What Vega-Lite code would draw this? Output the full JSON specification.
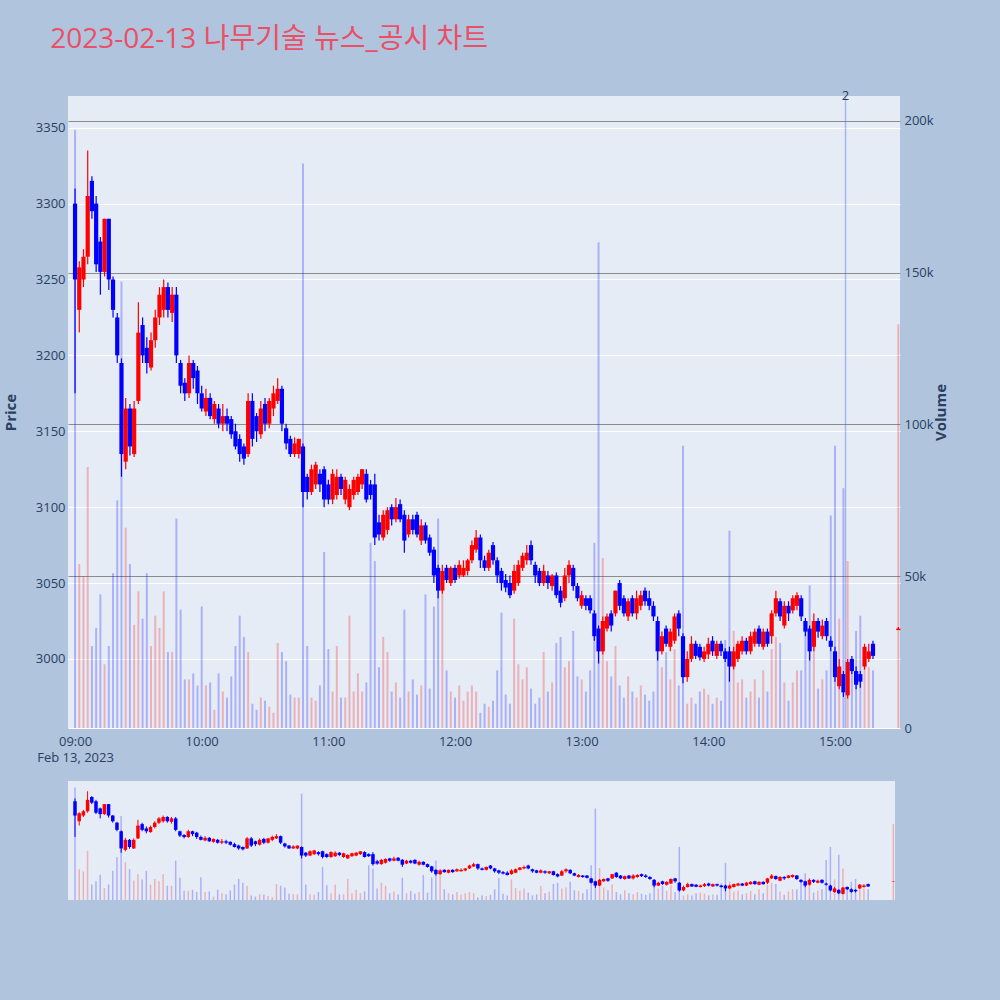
{
  "$schema": "https://vega.github.io/schema/vega-lite/v6.json",
  "background": "#B0C4DE",
  "padding": {"left": 3, "top": 26, "right": 51, "bottom": 100},
  "title": {
    "text": "2023-02-13 나무기술 뉴스_공시 차트",
    "anchor": "start",
    "font": "Open Sans, Noto Sans CJK KR",
    "fontSize": 28,
    "fontWeight": "normal",
    "color": "#ea4f66",
    "dx": 47,
    "offset": 36
  },
  "config": {
    "view": {"fill": "#E5ECF6", "stroke": null},
    "axis": {
      "ticks": false,
      "domain": false,
      "labelColor": "#2a3f5f",
      "labelFont": "Open Sans",
      "labelFontSize": 13,
      "titleColor": "#2a3f5f",
      "titleFont": "Open Sans",
      "titleFontSize": 15,
      "titleFontWeight": "bold"
    }
  },
  "data": {
    "format": {"parse": {"t": "utc:'%H:%M'"}},
    "values": [
      {"t":"09:00","o":3300,"h":3310,"l":3175,"c":3250,"v":197000},
      {"t":"09:02","o":3230,"h":3262,"l":3215,"c":3258,"v":54000},
      {"t":"09:04","o":3250,"h":3270,"l":3245,"c":3265,"v":50000},
      {"t":"09:06","o":3265,"h":3335,"l":3260,"c":3305,"v":86000},
      {"t":"09:08","o":3315,"h":3318,"l":3290,"c":3295,"v":27000},
      {"t":"09:10","o":3300,"h":3305,"l":3255,"c":3260,"v":33000},
      {"t":"09:12","o":3275,"h":3278,"l":3240,"c":3255,"v":44000},
      {"t":"09:14","o":3255,"h":3290,"l":3252,"c":3290,"v":21000},
      {"t":"09:16","o":3290,"h":3290,"l":3243,"c":3250,"v":27000},
      {"t":"09:18","o":3250,"h":3252,"l":3225,"c":3230,"v":51000},
      {"t":"09:20","o":3225,"h":3228,"l":3195,"c":3200,"v":75000},
      {"t":"09:22","o":3195,"h":3198,"l":3120,"c":3135,"v":147000},
      {"t":"09:24","o":3130,"h":3172,"l":3125,"c":3165,"v":66000},
      {"t":"09:26","o":3165,"h":3168,"l":3134,"c":3140,"v":54000},
      {"t":"09:28","o":3135,"h":3170,"l":3133,"c":3165,"v":34000},
      {"t":"09:30","o":3170,"h":3235,"l":3168,"c":3215,"v":45000},
      {"t":"09:32","o":3220,"h":3225,"l":3195,"c":3200,"v":36000},
      {"t":"09:34","o":3205,"h":3212,"l":3188,"c":3195,"v":51000},
      {"t":"09:36","o":3192,"h":3215,"l":3190,"c":3210,"v":27000},
      {"t":"09:38","o":3210,"h":3230,"l":3205,"c":3225,"v":37000},
      {"t":"09:40","o":3225,"h":3245,"l":3220,"c":3240,"v":33000},
      {"t":"09:42","o":3230,"h":3250,"l":3225,"c":3245,"v":45000},
      {"t":"09:44","o":3245,"h":3248,"l":3225,"c":3230,"v":25000},
      {"t":"09:46","o":3228,"h":3245,"l":3222,"c":3240,"v":25000},
      {"t":"09:48","o":3240,"h":3245,"l":3195,"c":3200,"v":69000},
      {"t":"09:50","o":3195,"h":3197,"l":3175,"c":3180,"v":39000},
      {"t":"09:52","o":3182,"h":3185,"l":3170,"c":3175,"v":16000},
      {"t":"09:54","o":3175,"h":3200,"l":3172,"c":3195,"v":16000},
      {"t":"09:56","o":3195,"h":3197,"l":3178,"c":3185,"v":18000},
      {"t":"09:58","o":3190,"h":3193,"l":3168,"c":3175,"v":14000},
      {"t":"10:00","o":3175,"h":3180,"l":3163,"c":3165,"v":40000},
      {"t":"10:02","o":3163,"h":3178,"l":3160,"c":3172,"v":14000},
      {"t":"10:04","o":3172,"h":3175,"l":3158,"c":3160,"v":15000},
      {"t":"10:06","o":3158,"h":3170,"l":3155,"c":3168,"v":6000},
      {"t":"10:08","o":3165,"h":3168,"l":3152,"c":3155,"v":18000},
      {"t":"10:10","o":3155,"h":3168,"l":3150,"c":3160,"v":12000},
      {"t":"10:12","o":3160,"h":3165,"l":3150,"c":3155,"v":10000},
      {"t":"10:14","o":3158,"h":3160,"l":3145,"c":3148,"v":17000},
      {"t":"10:16","o":3150,"h":3155,"l":3138,"c":3140,"v":27000},
      {"t":"10:18","o":3145,"h":3148,"l":3130,"c":3135,"v":37000},
      {"t":"10:20","o":3140,"h":3142,"l":3128,"c":3132,"v":30000},
      {"t":"10:22","o":3135,"h":3175,"l":3133,"c":3170,"v":25000},
      {"t":"10:24","o":3170,"h":3175,"l":3140,"c":3145,"v":8000},
      {"t":"10:26","o":3160,"h":3162,"l":3143,"c":3150,"v":6000},
      {"t":"10:28","o":3148,"h":3170,"l":3145,"c":3165,"v":10000},
      {"t":"10:30","o":3168,"h":3172,"l":3150,"c":3155,"v":9000},
      {"t":"10:32","o":3155,"h":3172,"l":3152,"c":3170,"v":7000},
      {"t":"10:34","o":3165,"h":3180,"l":3160,"c":3175,"v":5000},
      {"t":"10:36","o":3170,"h":3185,"l":3168,"c":3178,"v":28000},
      {"t":"10:38","o":3178,"h":3180,"l":3150,"c":3155,"v":25000},
      {"t":"10:40","o":3152,"h":3155,"l":3138,"c":3142,"v":22000},
      {"t":"10:42","o":3145,"h":3147,"l":3133,"c":3135,"v":11000},
      {"t":"10:44","o":3135,"h":3146,"l":3133,"c":3142,"v":10000},
      {"t":"10:46","o":3135,"h":3145,"l":3132,"c":3145,"v":10000},
      {"t":"10:48","o":3140,"h":3142,"l":3100,"c":3110,"v":186000},
      {"t":"10:50","o":3120,"h":3122,"l":3105,"c":3110,"v":27000},
      {"t":"10:52","o":3110,"h":3128,"l":3108,"c":3125,"v":10000},
      {"t":"10:54","o":3115,"h":3130,"l":3112,"c":3128,"v":9000},
      {"t":"10:56","o":3122,"h":3125,"l":3110,"c":3115,"v":14000},
      {"t":"10:58","o":3125,"h":3127,"l":3100,"c":3105,"v":58000},
      {"t":"11:00","o":3115,"h":3118,"l":3102,"c":3105,"v":26000},
      {"t":"11:02","o":3105,"h":3125,"l":3102,"c":3122,"v":12000},
      {"t":"11:04","o":3108,"h":3125,"l":3105,"c":3120,"v":27000},
      {"t":"11:06","o":3120,"h":3122,"l":3108,"c":3112,"v":10000},
      {"t":"11:08","o":3105,"h":3120,"l":3102,"c":3118,"v":10000},
      {"t":"11:10","o":3100,"h":3115,"l":3098,"c":3112,"v":37000},
      {"t":"11:12","o":3108,"h":3120,"l":3105,"c":3118,"v":12000},
      {"t":"11:14","o":3110,"h":3122,"l":3108,"c":3120,"v":18000},
      {"t":"11:16","o":3115,"h":3125,"l":3112,"c":3125,"v":12000},
      {"t":"11:18","o":3122,"h":3125,"l":3103,"c":3105,"v":15000},
      {"t":"11:20","o":3115,"h":3118,"l":3105,"c":3108,"v":61000},
      {"t":"11:22","o":3115,"h":3122,"l":3075,"c":3080,"v":55000},
      {"t":"11:24","o":3090,"h":3095,"l":3078,"c":3082,"v":20000},
      {"t":"11:26","o":3080,"h":3098,"l":3078,"c":3095,"v":30000},
      {"t":"11:28","o":3085,"h":3100,"l":3082,"c":3098,"v":25000},
      {"t":"11:30","o":3100,"h":3102,"l":3088,"c":3092,"v":12000},
      {"t":"11:32","o":3092,"h":3106,"l":3090,"c":3100,"v":15000},
      {"t":"11:34","o":3102,"h":3105,"l":3090,"c":3092,"v":10000},
      {"t":"11:36","o":3095,"h":3098,"l":3070,"c":3078,"v":39000},
      {"t":"11:38","o":3082,"h":3095,"l":3080,"c":3092,"v":12000},
      {"t":"11:40","o":3092,"h":3095,"l":3082,"c":3085,"v":16000},
      {"t":"11:42","o":3095,"h":3097,"l":3080,"c":3082,"v":11000},
      {"t":"11:44","o":3078,"h":3092,"l":3075,"c":3088,"v":14000},
      {"t":"11:46","o":3088,"h":3090,"l":3076,"c":3078,"v":44000},
      {"t":"11:48","o":3080,"h":3082,"l":3068,"c":3070,"v":13000},
      {"t":"11:50","o":3072,"h":3074,"l":3050,"c":3055,"v":40000},
      {"t":"11:52","o":3060,"h":3062,"l":3040,"c":3045,"v":69000},
      {"t":"11:54","o":3045,"h":3062,"l":3043,"c":3058,"v":50000},
      {"t":"11:56","o":3060,"h":3062,"l":3050,"c":3052,"v":19000},
      {"t":"11:58","o":3050,"h":3061,"l":3048,"c":3060,"v":12000},
      {"t":"12:00","o":3060,"h":3062,"l":3050,"c":3052,"v":10000},
      {"t":"12:02","o":3055,"h":3065,"l":3053,"c":3062,"v":14000},
      {"t":"12:04","o":3055,"h":3065,"l":3054,"c":3060,"v":9000},
      {"t":"12:06","o":3058,"h":3066,"l":3055,"c":3065,"v":12000},
      {"t":"12:08","o":3065,"h":3078,"l":3063,"c":3075,"v":14000},
      {"t":"12:10","o":3072,"h":3085,"l":3070,"c":3080,"v":12000},
      {"t":"12:12","o":3080,"h":3082,"l":3060,"c":3065,"v":5000},
      {"t":"12:14","o":3065,"h":3068,"l":3058,"c":3060,"v":8000},
      {"t":"12:16","o":3060,"h":3072,"l":3058,"c":3070,"v":7000},
      {"t":"12:18","o":3075,"h":3077,"l":3062,"c":3065,"v":9000},
      {"t":"12:20","o":3065,"h":3067,"l":3050,"c":3055,"v":19000},
      {"t":"12:22","o":3058,"h":3060,"l":3045,"c":3050,"v":38000},
      {"t":"12:24","o":3052,"h":3056,"l":3044,"c":3047,"v":11000},
      {"t":"12:26","o":3050,"h":3055,"l":3040,"c":3042,"v":8000},
      {"t":"12:28","o":3045,"h":3062,"l":3043,"c":3058,"v":36000},
      {"t":"12:30","o":3050,"h":3065,"l":3048,"c":3062,"v":21000},
      {"t":"12:32","o":3060,"h":3070,"l":3058,"c":3068,"v":16000},
      {"t":"12:34","o":3065,"h":3075,"l":3062,"c":3070,"v":20000},
      {"t":"12:36","o":3075,"h":3078,"l":3062,"c":3065,"v":13000},
      {"t":"12:38","o":3062,"h":3064,"l":3050,"c":3055,"v":8000},
      {"t":"12:40","o":3058,"h":3060,"l":3048,"c":3050,"v":10000},
      {"t":"12:42","o":3050,"h":3062,"l":3048,"c":3058,"v":25000},
      {"t":"12:44","o":3055,"h":3058,"l":3046,"c":3050,"v":12000},
      {"t":"12:46","o":3048,"h":3056,"l":3045,"c":3055,"v":15000},
      {"t":"12:48","o":3055,"h":3057,"l":3040,"c":3042,"v":28000},
      {"t":"12:50","o":3045,"h":3048,"l":3034,"c":3037,"v":30000},
      {"t":"12:52","o":3040,"h":3060,"l":3038,"c":3055,"v":20000},
      {"t":"12:54","o":3055,"h":3065,"l":3050,"c":3062,"v":22000},
      {"t":"12:56","o":3060,"h":3062,"l":3045,"c":3048,"v":32000},
      {"t":"12:58","o":3048,"h":3050,"l":3038,"c":3040,"v":17000},
      {"t":"13:00","o":3035,"h":3045,"l":3033,"c":3042,"v":16000},
      {"t":"13:02","o":3040,"h":3042,"l":3032,"c":3035,"v":12000},
      {"t":"13:04","o":3040,"h":3042,"l":3030,"c":3032,"v":19000},
      {"t":"13:06","o":3030,"h":3032,"l":3012,"c":3015,"v":61000},
      {"t":"13:08","o":3020,"h":3022,"l":2997,"c":3005,"v":160000},
      {"t":"13:10","o":3005,"h":3028,"l":3003,"c":3025,"v":56000},
      {"t":"13:12","o":3020,"h":3030,"l":3018,"c":3028,"v":22000},
      {"t":"13:14","o":3030,"h":3032,"l":3018,"c":3022,"v":17000},
      {"t":"13:16","o":3030,"h":3045,"l":3028,"c":3045,"v":27000},
      {"t":"13:18","o":3050,"h":3052,"l":3032,"c":3035,"v":14000},
      {"t":"13:20","o":3040,"h":3042,"l":3028,"c":3030,"v":10000},
      {"t":"13:22","o":3028,"h":3040,"l":3025,"c":3038,"v":17000},
      {"t":"13:24","o":3040,"h":3042,"l":3028,"c":3030,"v":12000},
      {"t":"13:26","o":3030,"h":3045,"l":3026,"c":3040,"v":10000},
      {"t":"13:28","o":3035,"h":3045,"l":3032,"c":3042,"v":14000},
      {"t":"13:30","o":3045,"h":3047,"l":3035,"c":3038,"v":11000},
      {"t":"13:32","o":3040,"h":3045,"l":3032,"c":3035,"v":9000},
      {"t":"13:34","o":3035,"h":3038,"l":3025,"c":3028,"v":12000},
      {"t":"13:36","o":3025,"h":3028,"l":2999,"c":3005,"v":25000},
      {"t":"13:38","o":3005,"h":3018,"l":3003,"c":3015,"v":20000},
      {"t":"13:40","o":3020,"h":3022,"l":3008,"c":3010,"v":25000},
      {"t":"13:42","o":3008,"h":3020,"l":3005,"c":3018,"v":16000},
      {"t":"13:44","o":3012,"h":3030,"l":3010,"c":3028,"v":26000},
      {"t":"13:46","o":3030,"h":3032,"l":3015,"c":3020,"v":14000},
      {"t":"13:48","o":3015,"h":3017,"l":2984,"c":2988,"v":93000},
      {"t":"13:50","o":2988,"h":3005,"l":2985,"c":3000,"v":8000},
      {"t":"13:52","o":3000,"h":3015,"l":2998,"c":3010,"v":10000},
      {"t":"13:54","o":3010,"h":3012,"l":3000,"c":3002,"v":8000},
      {"t":"13:56","o":3008,"h":3010,"l":2999,"c":3001,"v":12000},
      {"t":"13:58","o":3000,"h":3008,"l":2998,"c":3005,"v":13000},
      {"t":"14:00","o":3003,"h":3014,"l":3000,"c":3010,"v":11000},
      {"t":"14:02","o":3012,"h":3015,"l":3002,"c":3005,"v":8000},
      {"t":"14:04","o":3002,"h":3012,"l":3000,"c":3010,"v":10000},
      {"t":"14:06","o":3010,"h":3012,"l":3002,"c":3005,"v":9000},
      {"t":"14:08","o":3005,"h":3007,"l":2998,"c":3000,"v":29000},
      {"t":"14:10","o":3005,"h":3008,"l":2985,"c":2995,"v":65000},
      {"t":"14:12","o":2995,"h":3008,"l":2993,"c":3005,"v":32000},
      {"t":"14:14","o":3000,"h":3012,"l":2998,"c":3010,"v":15000},
      {"t":"14:16","o":3005,"h":3015,"l":3003,"c":3012,"v":16000},
      {"t":"14:18","o":3012,"h":3014,"l":3003,"c":3005,"v":10000},
      {"t":"14:20","o":3005,"h":3018,"l":3003,"c":3015,"v":12000},
      {"t":"14:22","o":3010,"h":3020,"l":3008,"c":3018,"v":16000},
      {"t":"14:24","o":3020,"h":3022,"l":3008,"c":3010,"v":10000},
      {"t":"14:26","o":3008,"h":3020,"l":3006,"c":3018,"v":19000},
      {"t":"14:28","o":3018,"h":3020,"l":3008,"c":3010,"v":12000},
      {"t":"14:30","o":3015,"h":3032,"l":3010,"c":3030,"v":26000},
      {"t":"14:32","o":3030,"h":3045,"l":3028,"c":3040,"v":30000},
      {"t":"14:34","o":3038,"h":3040,"l":3025,"c":3028,"v":28000},
      {"t":"14:36","o":3022,"h":3038,"l":3020,"c":3035,"v":15000},
      {"t":"14:38","o":3035,"h":3038,"l":3025,"c":3030,"v":9000},
      {"t":"14:40","o":3032,"h":3042,"l":3030,"c":3040,"v":15000},
      {"t":"14:42","o":3035,"h":3044,"l":3032,"c":3042,"v":19000},
      {"t":"14:44","o":3040,"h":3042,"l":3025,"c":3028,"v":19000},
      {"t":"14:46","o":3025,"h":3027,"l":3015,"c":3018,"v":33000},
      {"t":"14:48","o":3020,"h":3022,"l":2999,"c":3005,"v":47000},
      {"t":"14:50","o":3008,"h":3030,"l":3005,"c":3025,"v":27000},
      {"t":"14:52","o":3025,"h":3027,"l":3014,"c":3018,"v":13000},
      {"t":"14:54","o":3015,"h":3026,"l":3013,"c":3022,"v":16000},
      {"t":"14:56","o":3025,"h":3027,"l":3012,"c":3015,"v":19000},
      {"t":"14:58","o":3012,"h":3015,"l":3005,"c":3008,"v":70000},
      {"t":"15:00","o":3005,"h":3008,"l":2985,"c":2988,"v":93000},
      {"t":"15:02","o":2982,"h":3000,"l":2980,"c":2995,"v":36000},
      {"t":"15:04","o":2990,"h":2992,"l":2975,"c":2978,"v":79000},
      {"t":"15:06","o":2976,"h":3000,"l":2974,"c":2998,"v":55000},
      {"t":"15:08","o":3000,"h":3002,"l":2990,"c":2992,"v":22000},
      {"t":"15:10","o":2992,"h":2995,"l":2980,"c":2983,"v":32000},
      {"t":"15:12","o":2990,"h":2992,"l":2981,"c":2985,"v":37000},
      {"t":"15:14","o":2995,"h":3010,"l":2993,"c":3008,"v":24000},
      {"t":"15:16","o":3000,"h":3010,"l":2998,"c":3005,"v":20000},
      {"t":"15:18","o":3010,"h":3012,"l":3000,"c":3002,"v":19000},
      {"t":"15:30","o":3019,"h":3021,"l":3019,"c":3020,"v":133000}
    ]
  },
  "spacing": 17,
  "vconcat": [
    {
      "width": 832,
      "height": 632,
      "encoding": {
        "x": {
          "field": "t",
          "type": "temporal",
          "scale": {
            "type": "utc",
            "nice": false,
            "padding": 0,
            "domain": [
              {"year": 1900, "month": 1, "date": 1, "hours": 8, "minutes": 56, "seconds": 40, "utc": true},
              {"year": 1900, "month": 1, "date": 1, "hours": 15, "minutes": 30, "seconds": 48, "utc": true}
            ]
          },
          "axis": {
            "title": null,
            "grid": false,
            "labelPadding": 7,
            "labelLineHeight": 16,
            "values": [
              {"year": 1900, "month": 1, "date": 1, "hours": 9, "utc": true},
              {"year": 1900, "month": 1, "date": 1, "hours": 10, "utc": true},
              {"year": 1900, "month": 1, "date": 1, "hours": 11, "utc": true},
              {"year": 1900, "month": 1, "date": 1, "hours": 12, "utc": true},
              {"year": 1900, "month": 1, "date": 1, "hours": 13, "utc": true},
              {"year": 1900, "month": 1, "date": 1, "hours": 14, "utc": true},
              {"year": 1900, "month": 1, "date": 1, "hours": 15, "utc": true}
            ],
            "labelExpr": "datum.index == 0 ? [utcFormat(datum.value, '%H:%M'), 'Feb 13, 2023'] : utcFormat(datum.value, '%H:%M')"
          }
        }
      },
      "layer": [
        {
          "mark": {"type": "bar", "width": 2, "opacity": 0.25},
          "encoding": {
            "y": {
              "field": "v",
              "type": "quantitative",
              "scale": {"domain": [0, 208200], "nice": false},
              "axis": {
                "orient": "right",
                "title": "Volume",
                "titleAngle": 270,
                "titlePadding": 15,
                "labelPadding": 4,
                "values": [0, 50000, 100000, 150000, 200000],
                "labelExpr": "datum.value == 0 ? '0' : format(datum.value, '~s')",
                "grid": true,
                "gridColor": {"condition": {"test": "datum.value === 0", "value": "#ffffff"}, "value": "#8c8c8c"}
              }
            },
            "color": {"condition": {"test": "datum.c >= datum.o", "value": "#ff0000"}, "value": "#0000ff"}
          }
        },
        {
          "encoding": {
            "y": {
              "type": "quantitative",
              "title": "Price",
              "scale": {"domain": [2954.5, 3370.9], "zero": false, "nice": false},
              "axis": {
                "orient": "left",
                "titlePadding": 17,
                "labelPadding": 3,
                "format": "d",
                "values": [3000, 3050, 3100, 3150, 3200, 3250, 3300, 3350],
                "grid": true,
                "gridColor": "#ffffff",
                "gridWidth": 1
              }
            },
            "color": {"condition": {"test": "datum.c >= datum.o", "value": "#ff0000"}, "value": "#0000ff"}
          },
          "layer": [
            {
              "mark": {"type": "rule", "strokeWidth": 1.2},
              "encoding": {"y": {"field": "l"}, "y2": {"field": "h"}}
            },
            {
              "mark": {"type": "bar", "width": 4.2},
              "encoding": {"y": {"field": "o"}, "y2": {"field": "c"}}
            }
          ]
        },
        {
          "data": {"format": {"parse": {"t": "utc:'%H:%M'"}}, "values": [{"t": "15:05", "n": "2"}]},
          "layer": [
            {
              "mark": {"type": "rule", "color": "#4169e1", "opacity": 0.4, "strokeWidth": 1.5},
              "encoding": {}
            },
            {
              "mark": {"type": "text", "y": 0, "baseline": "middle", "fontSize": 13, "font": "Open Sans", "color": "#2a3f5f"},
              "encoding": {"text": {"field": "n"}}
            }
          ]
        }
      ],
      "resolve": {"scale": {"y": "independent"}}
    },
    {
      "width": 827,
      "height": 119,
      "encoding": {
        "x": {
          "field": "t",
          "type": "temporal",
          "axis": null,
          "scale": {
            "type": "utc",
            "nice": false,
            "padding": 0,
            "domain": [
              {"year": 1900, "month": 1, "date": 1, "hours": 8, "minutes": 56, "seconds": 40, "utc": true},
              {"year": 1900, "month": 1, "date": 1, "hours": 15, "minutes": 30, "seconds": 48, "utc": true}
            ]
          }
        },
        "color": {"condition": {"test": "datum.c >= datum.o", "value": "#ff0000"}, "value": "#0000ff"}
      },
      "layer": [
        {
          "mark": {"type": "bar", "width": 1.5, "opacity": 0.25},
          "encoding": {
            "y": {"field": "v", "type": "quantitative", "axis": null, "scale": {"domain": [0, 208200], "nice": false}}
          }
        },
        {
          "encoding": {
            "y": {"type": "quantitative", "axis": null, "scale": {"domain": [2954.5, 3370.9], "zero": false, "nice": false}}
          },
          "layer": [
            {
              "mark": {"type": "rule", "strokeWidth": 1},
              "encoding": {"y": {"field": "l"}, "y2": {"field": "h"}}
            },
            {
              "mark": {"type": "bar", "width": 3.5},
              "encoding": {"y": {"field": "o"}, "y2": {"field": "c"}}
            }
          ]
        }
      ],
      "resolve": {"scale": {"y": "independent"}}
    }
  ]
}
